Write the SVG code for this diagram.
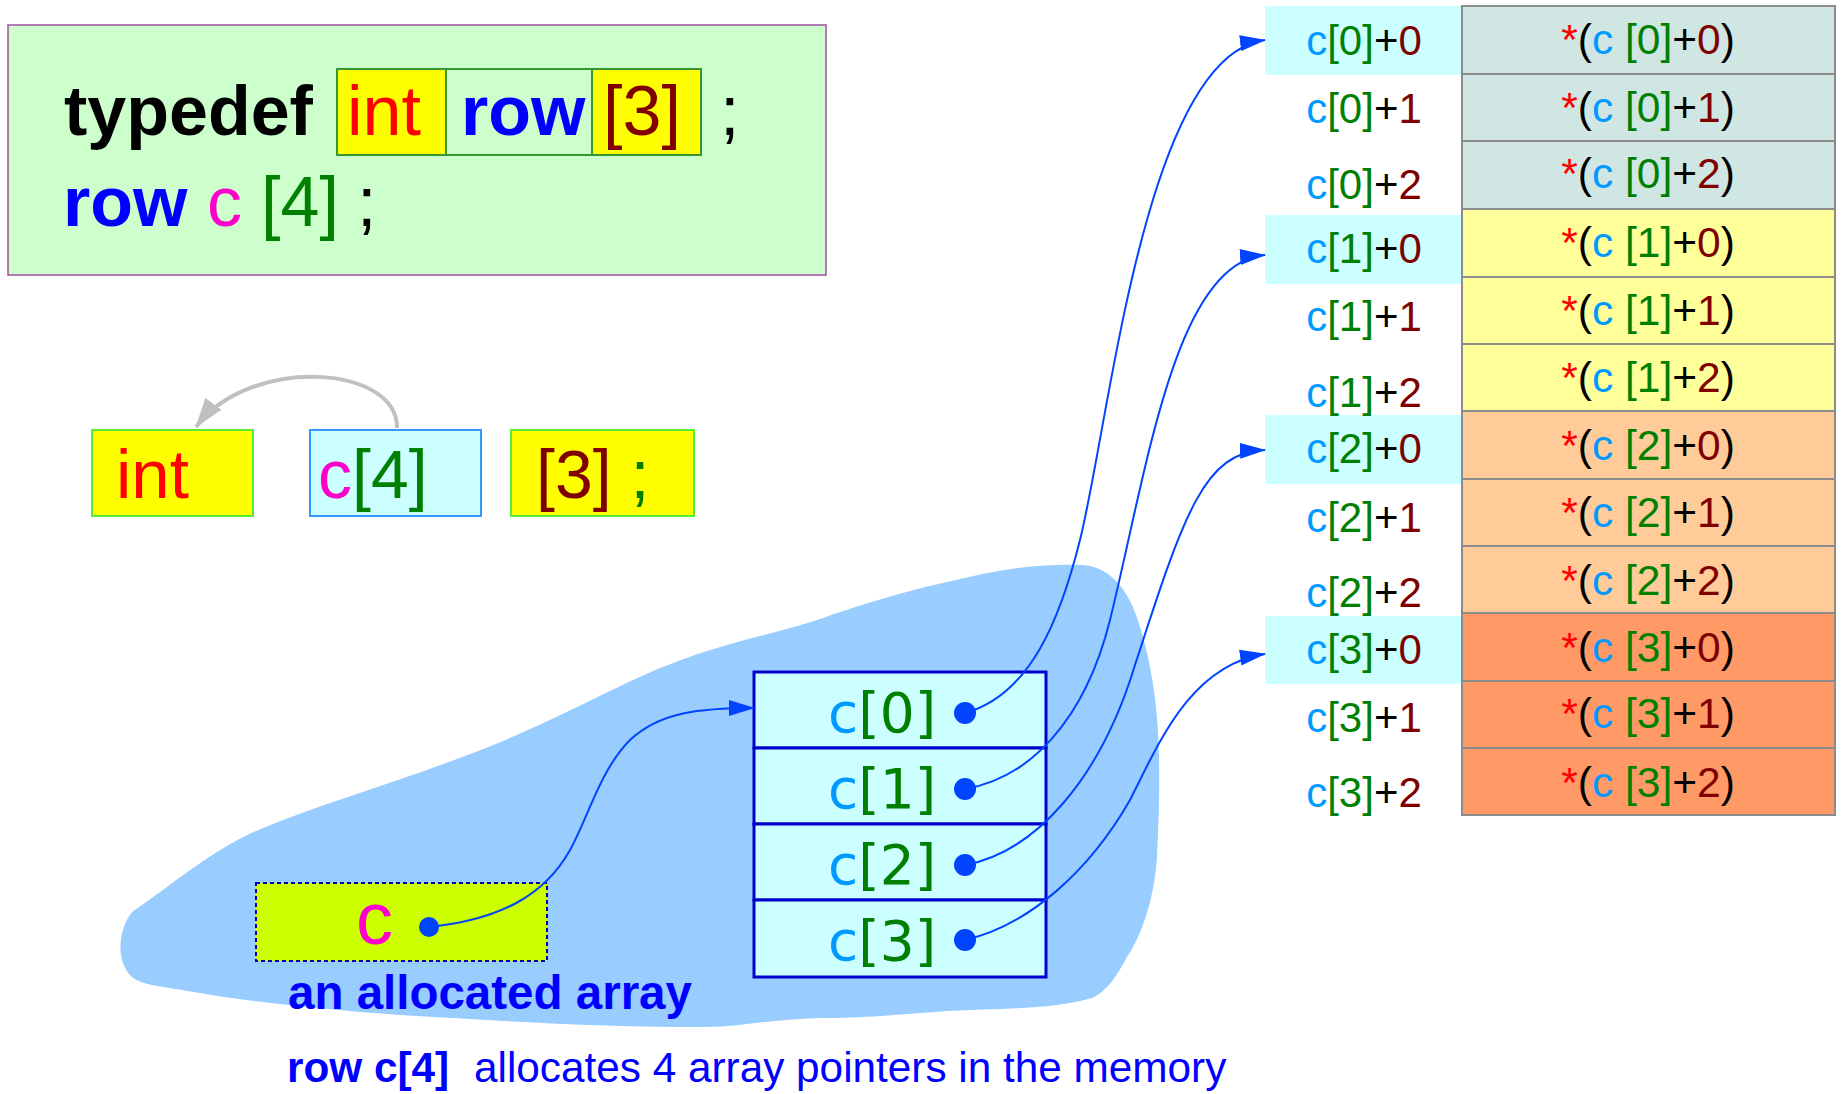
<svg xmlns="http://www.w3.org/2000/svg" width="1841" height="1094" viewBox="0 0 1841 1094">
<defs>
<style>
.t{font-family:"Liberation Sans",Arial,sans-serif}
.dj{font-family:"DejaVu Sans","Liberation Sans",sans-serif}
.b{font-weight:bold}
.blk{fill:#000}.red{fill:#ff0000}.blu{fill:#0000ff}.mag{fill:#ff00cc}.grn{fill:#008000}.drd{fill:#800000}.cy{fill:#0099ff}.star{fill:#ff0000}
.conn{fill:none;stroke:#0044ff;stroke-width:2;marker-end:url(#ab)}
.row{stroke:#8c8c8c;stroke-width:2}
.lab{font-size:42px;text-anchor:middle}
.val{font-size:42.5px;text-anchor:middle}
.cell{fill:#ccffff;stroke:#0000cc;stroke-width:3}
.dot{fill:#0044ff}
</style>
<marker id="ab" markerUnits="userSpaceOnUse" viewBox="0 0 26 16" markerWidth="26" markerHeight="16" refX="25" refY="8" orient="auto">
<path d="M0,0 L26,8 L0,16 z" fill="#0044ff"/>
</marker>
<marker id="ag" markerUnits="userSpaceOnUse" viewBox="0 0 30 20" markerWidth="30" markerHeight="20" refX="29" refY="10" orient="auto">
<path d="M0,0 L30,10 L0,20 z" fill="#c0c0c0"/>
</marker>
</defs>

<g id="blob">
<path d="M132,912 C170,886 205,856 245,836 C300,810 400,782 486,748 C560,718 600,694 651,672 C720,642 770,636 823,618 C880,598 920,588 947,582 C990,572 1030,563 1083,565 C1110,567 1130,590 1140,627 C1150,660 1158,700 1159,757 C1160,800 1158,830 1157,857 C1155,890 1145,930 1127,957 C1115,980 1105,992 1092,998 C1050,1010 1000,1008 947,1011 C880,1016 860,1018 823,1018 C760,1020 740,1027 706,1027 C600,1027 520,1022 400,1015 C330,1010 250,1002 200,993 C160,986 138,985 130,975 C116,960 118,930 132,912 Z" fill="#99ccff"/>
</g>

<g id="typedef-box">
<rect x="8" y="25" width="818" height="250" fill="#ccffcc" stroke="#a050a0" stroke-width="1.5"/>
<rect x="337" y="69" width="364" height="86" fill="#ccffcc" stroke="#339933" stroke-width="2"/>
<rect x="337" y="69" width="109" height="86" fill="#ffff00" stroke="#339933" stroke-width="2"/>
<rect x="592" y="69" width="109" height="86" fill="#ffff00" stroke="#339933" stroke-width="2"/>
<text class="t b blk" x="64" y="135" font-size="70">typedef</text>
<text class="t red" x="347" y="135" font-size="70">int</text>
<text class="t b blu" x="461" y="135" font-size="70">row</text>
<text class="t drd" x="603" y="135" font-size="70">[3]</text>
<text class="t blk" x="720" y="135" font-size="70">;</text>
<text class="t b blu" x="63" y="226" font-size="70">row</text>
<text class="t mag" x="207" y="226" font-size="70">c</text>
<text class="t grn" x="261" y="226" font-size="70">[4]</text>
<text class="t blk" x="357" y="226" font-size="70">;</text>
</g>

<g id="int-box">
<rect x="92" y="430" width="161" height="86" fill="#ffff00" stroke="#55ee33" stroke-width="2"/>
<text class="t red" x="116" y="498" font-size="69">int</text>
</g>
<g id="c4-box">
<rect x="310" y="430" width="171" height="86" fill="#ccffff" stroke="#3399ff" stroke-width="2"/>
<text class="t" x="318" y="498" font-size="68"><tspan class="mag">c</tspan><tspan class="grn">[4]</tspan></text>
</g>
<g id="dim3-box">
<rect x="511" y="430" width="183" height="86" fill="#ffff00" stroke="#55ee33" stroke-width="2"/>
<text class="t" x="536" y="498" font-size="68"><tspan class="drd">[3]</tspan><tspan class="grn"> ;</tspan></text>
</g>

<g id="pointer-c">
<rect x="256" y="883" width="291" height="78" fill="#ccff00" stroke="#0000aa" stroke-width="2" stroke-dasharray="4,3"/>
<text class="t mag" x="356" y="944" font-size="74">c</text>
<circle class="dot" cx="429" cy="927" r="10"/>
</g>

<g id="array">
<rect class="cell" x="754" y="672" width="292" height="76"/>
<rect class="cell" x="754" y="748" width="292" height="76"/>
<rect class="cell" x="754" y="824" width="292" height="76"/>
<rect class="cell" x="754" y="900" width="292" height="77"/>
<text class="dj" x="828" y="732" font-size="55"><tspan class="cy">c</tspan><tspan class="grn">[0]</tspan></text>
<text class="dj" x="828" y="808" font-size="55"><tspan class="cy">c</tspan><tspan class="grn">[1]</tspan></text>
<text class="dj" x="828" y="884" font-size="55"><tspan class="cy">c</tspan><tspan class="grn">[2]</tspan></text>
<text class="dj" x="828" y="960" font-size="55"><tspan class="cy">c</tspan><tspan class="grn">[3]</tspan></text>
<circle class="dot" cx="965" cy="713" r="11"/>
<circle class="dot" cx="965" cy="789" r="11"/>
<circle class="dot" cx="965" cy="865" r="11"/>
<circle class="dot" cx="965" cy="940" r="11"/>
</g>

<g id="labels-text">
<text class="t b blu" x="288" y="1009" font-size="47.5">an allocated array</text>
<text class="t blu" y="1082" font-size="42.3"><tspan class="b" x="287">row c[4]</tspan><tspan x="474">allocates 4 array pointers in the memory</tspan></text>
</g>

<g id="addresses">
<rect x="1265" y="6" width="197" height="69" fill="#ccffff"/>
<rect x="1265" y="215" width="197" height="69" fill="#ccffff"/>
<rect x="1265" y="415" width="197" height="69" fill="#ccffff"/>
<rect x="1265" y="616" width="197" height="68" fill="#ccffff"/>
<text class="t lab" x="1364" y="55"><tspan class="cy">c</tspan><tspan class="grn">[0]</tspan><tspan class="blk">+</tspan><tspan class="drd">0</tspan></text>
<text class="t lab" x="1364" y="123"><tspan class="cy">c</tspan><tspan class="grn">[0]</tspan><tspan class="blk">+</tspan><tspan class="drd">1</tspan></text>
<text class="t lab" x="1364" y="199"><tspan class="cy">c</tspan><tspan class="grn">[0]</tspan><tspan class="blk">+</tspan><tspan class="drd">2</tspan></text>
<text class="t lab" x="1364" y="263"><tspan class="cy">c</tspan><tspan class="grn">[1]</tspan><tspan class="blk">+</tspan><tspan class="drd">0</tspan></text>
<text class="t lab" x="1364" y="331"><tspan class="cy">c</tspan><tspan class="grn">[1]</tspan><tspan class="blk">+</tspan><tspan class="drd">1</tspan></text>
<text class="t lab" x="1364" y="407"><tspan class="cy">c</tspan><tspan class="grn">[1]</tspan><tspan class="blk">+</tspan><tspan class="drd">2</tspan></text>
<text class="t lab" x="1364" y="463"><tspan class="cy">c</tspan><tspan class="grn">[2]</tspan><tspan class="blk">+</tspan><tspan class="drd">0</tspan></text>
<text class="t lab" x="1364" y="532"><tspan class="cy">c</tspan><tspan class="grn">[2]</tspan><tspan class="blk">+</tspan><tspan class="drd">1</tspan></text>
<text class="t lab" x="1364" y="607"><tspan class="cy">c</tspan><tspan class="grn">[2]</tspan><tspan class="blk">+</tspan><tspan class="drd">2</tspan></text>
<text class="t lab" x="1364" y="664"><tspan class="cy">c</tspan><tspan class="grn">[3]</tspan><tspan class="blk">+</tspan><tspan class="drd">0</tspan></text>
<text class="t lab" x="1364" y="732"><tspan class="cy">c</tspan><tspan class="grn">[3]</tspan><tspan class="blk">+</tspan><tspan class="drd">1</tspan></text>
<text class="t lab" x="1364" y="807"><tspan class="cy">c</tspan><tspan class="grn">[3]</tspan><tspan class="blk">+</tspan><tspan class="drd">2</tspan></text>
</g>

<g id="table">
<rect class="row" x="1462" y="6" width="373" height="68" fill="#cfe6e2"/>
<rect class="row" x="1462" y="74" width="373" height="67" fill="#cfe6e2"/>
<rect class="row" x="1462" y="141" width="373" height="68" fill="#cfe6e2"/>
<rect class="row" x="1462" y="209" width="373" height="68" fill="#ffff99"/>
<rect class="row" x="1462" y="277" width="373" height="67" fill="#ffff99"/>
<rect class="row" x="1462" y="344" width="373" height="67" fill="#ffff99"/>
<rect class="row" x="1462" y="411" width="373" height="68" fill="#ffcc99"/>
<rect class="row" x="1462" y="479" width="373" height="67" fill="#ffcc99"/>
<rect class="row" x="1462" y="546" width="373" height="67" fill="#ffcc99"/>
<rect class="row" x="1462" y="613" width="373" height="68" fill="#ff9966"/>
<rect class="row" x="1462" y="681" width="373" height="67" fill="#ff9966"/>
<rect class="row" x="1462" y="748" width="373" height="67" fill="#ff9966"/>
<text class="t val" x="1648" y="54"><tspan class="star">*</tspan><tspan class="blk">(</tspan><tspan class="cy">c </tspan><tspan class="grn">[0]</tspan><tspan class="blk">+</tspan><tspan class="drd">0</tspan><tspan class="blk">)</tspan></text>
<text class="t val" x="1648" y="122"><tspan class="star">*</tspan><tspan class="blk">(</tspan><tspan class="cy">c </tspan><tspan class="grn">[0]</tspan><tspan class="blk">+</tspan><tspan class="drd">1</tspan><tspan class="blk">)</tspan></text>
<text class="t val" x="1648" y="188"><tspan class="star">*</tspan><tspan class="blk">(</tspan><tspan class="cy">c </tspan><tspan class="grn">[0]</tspan><tspan class="blk">+</tspan><tspan class="drd">2</tspan><tspan class="blk">)</tspan></text>
<text class="t val" x="1648" y="257"><tspan class="star">*</tspan><tspan class="blk">(</tspan><tspan class="cy">c </tspan><tspan class="grn">[1]</tspan><tspan class="blk">+</tspan><tspan class="drd">0</tspan><tspan class="blk">)</tspan></text>
<text class="t val" x="1648" y="325"><tspan class="star">*</tspan><tspan class="blk">(</tspan><tspan class="cy">c </tspan><tspan class="grn">[1]</tspan><tspan class="blk">+</tspan><tspan class="drd">1</tspan><tspan class="blk">)</tspan></text>
<text class="t val" x="1648" y="392"><tspan class="star">*</tspan><tspan class="blk">(</tspan><tspan class="cy">c </tspan><tspan class="grn">[1]</tspan><tspan class="blk">+</tspan><tspan class="drd">2</tspan><tspan class="blk">)</tspan></text>
<text class="t val" x="1648" y="460"><tspan class="star">*</tspan><tspan class="blk">(</tspan><tspan class="cy">c </tspan><tspan class="grn">[2]</tspan><tspan class="blk">+</tspan><tspan class="drd">0</tspan><tspan class="blk">)</tspan></text>
<text class="t val" x="1648" y="527"><tspan class="star">*</tspan><tspan class="blk">(</tspan><tspan class="cy">c </tspan><tspan class="grn">[2]</tspan><tspan class="blk">+</tspan><tspan class="drd">1</tspan><tspan class="blk">)</tspan></text>
<text class="t val" x="1648" y="595"><tspan class="star">*</tspan><tspan class="blk">(</tspan><tspan class="cy">c </tspan><tspan class="grn">[2]</tspan><tspan class="blk">+</tspan><tspan class="drd">2</tspan><tspan class="blk">)</tspan></text>
<text class="t val" x="1648" y="662"><tspan class="star">*</tspan><tspan class="blk">(</tspan><tspan class="cy">c </tspan><tspan class="grn">[3]</tspan><tspan class="blk">+</tspan><tspan class="drd">0</tspan><tspan class="blk">)</tspan></text>
<text class="t val" x="1648" y="728"><tspan class="star">*</tspan><tspan class="blk">(</tspan><tspan class="cy">c </tspan><tspan class="grn">[3]</tspan><tspan class="blk">+</tspan><tspan class="drd">1</tspan><tspan class="blk">)</tspan></text>
<text class="t val" x="1648" y="797"><tspan class="star">*</tspan><tspan class="blk">(</tspan><tspan class="cy">c </tspan><tspan class="grn">[3]</tspan><tspan class="blk">+</tspan><tspan class="drd">2</tspan><tspan class="blk">)</tspan></text>
</g>

<g id="connectors">
<path d="M397,428 C398,365 250,355 196,427" fill="none" stroke="#c0c0c0" stroke-width="4" marker-end="url(#ag)"/>
<path class="conn" d="M429,927 C500,920 545,895 570,850 C588,818 600,770 630,740 C660,712 700,708 754,708"/>
<path class="conn" d="M965,713 C1030,695 1060,620 1080,540 C1110,420 1145,55 1265,40"/>
<path class="conn" d="M965,789 C1030,778 1085,720 1110,620 C1147,470 1175,262 1265,255"/>
<path class="conn" d="M965,865 C1035,852 1100,780 1135,665 C1185,510 1205,452 1265,450"/>
<path class="conn" d="M965,940 C1030,925 1090,870 1130,800 C1158,745 1190,665 1265,654"/>
</g>
</svg>
